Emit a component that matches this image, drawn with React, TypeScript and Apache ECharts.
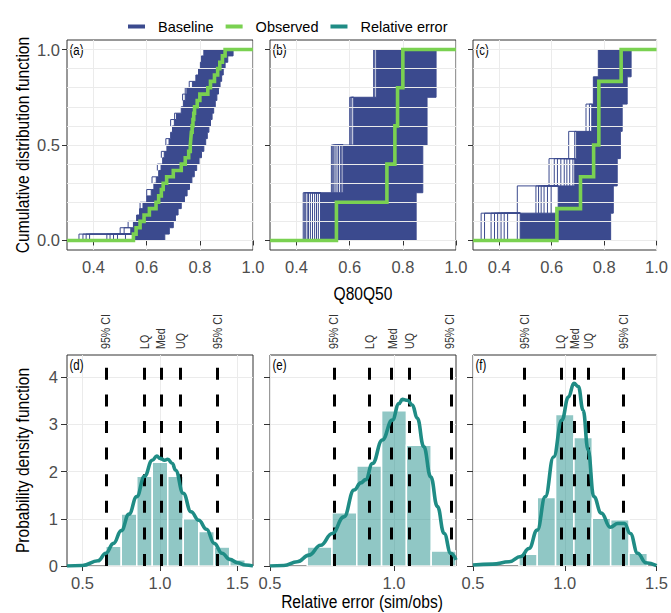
import React, { useEffect, useRef } from 'react';
import * as echarts from 'echarts';

const FONT = "'Liberation Sans', Arial, sans-serif";
const BLUE = '#3B4A8E';
const GREEN = '#7AD151';
const TEAL = '#1F8C85';
const HIST = 'rgba(33,144,140,0.5)';
const GRIDC = '#EBEBEB';
const BORDER = '#333333';
const LABEL = '#4D4D4D';
const NARROW = 0.82;

// ---------- legend / labels ----------
const legendNames = ['Baseline', 'Observed', 'Relative error'];
const panelTags = ['(a)', '(b)', '(c)', '(d)', '(e)', '(f)'];
const quantileLabels = ['95% CI', 'LQ', 'Med', 'UQ', '95% CI'];

// ---------- top row: cumulative distribution ----------
const cdfXTicks = [0.4, 0.6, 0.8, 1.0];
const cdfYTicks = [0, 0.5, 1.0];
const cdfYGrid = [0, 0.1, 0.2, 0.3, 0.4, 0.5, 0.6, 0.7, 0.8, 0.9, 1.0];

// (a) observed sample (sorted) and baseline ensemble envelope per ECDF level
const obsA = [0.55, 0.56, 0.575, 0.59, 0.61, 0.635, 0.645, 0.655, 0.662, 0.675, 0.70, 0.73, 0.745, 0.758, 0.764,
  0.766, 0.768, 0.771, 0.774, 0.777, 0.78, 0.79, 0.80, 0.83, 0.84, 0.855, 0.867, 0.875, 0.885, 0.895];
const baseLeftA = [0.55, 0.54, 0.55, 0.562, 0.573, 0.586, 0.60, 0.617, 0.627, 0.636, 0.645, 0.654, 0.66, 0.666, 0.676,
  0.684, 0.69, 0.697, 0.704, 0.712, 0.73, 0.738, 0.745, 0.751, 0.772, 0.785, 0.795, 0.802, 0.806, 0.815];
const baseRightA = [0.668, 0.685, 0.70, 0.708, 0.718, 0.73, 0.742, 0.752, 0.761, 0.77, 0.779, 0.788, 0.797, 0.806, 0.815,
  0.822, 0.828, 0.834, 0.84, 0.846, 0.852, 0.858, 0.864, 0.87, 0.876, 0.882, 0.888, 0.895, 0.905, 0.925];
const sparseA = [[0.345, 1], [0.36, 1], [0.372, 1], [0.385, 1], [0.45, 1], [0.462, 1], [0.475, 1], [0.49, 1], [0.52, 1],
  [0.5, 2], [0.515, 2], [0.53, 3], [0.575, 6], [0.6, 8], [0.62, 10], [0.64, 12], [0.655, 14], [0.672, 16], [0.69, 19],
  [0.705, 20], [0.735, 23], [0.745, 24], [0.76, 25]];

// (b)
const obsB = [0.55, 0.74, 0.77, 0.78, 0.80];
const baseLeftB = [0.49, 0.575, 0.615, 0.70];
const baseRightB = [0.85, 0.875, 0.891, 0.925];
const sparseB = [[0.425, 1], [0.429, 1], [0.433, 1], [0.44, 1], [0.445, 1], [0.452, 1], [0.46, 1], [0.468, 1], [0.475, 1],
  [0.482, 1], [0.531, 2], [0.536, 2], [0.54, 2], [0.545, 2], [0.552, 2], [0.558, 2], [0.565, 2], [0.57, 2],
  [0.6, 3], [0.604, 3], [0.608, 3], [0.69, 4], [0.694, 4]];

// (c)
const obsC = [0.62, 0.71, 0.76, 0.78, 0.78, 0.865];
const baseLeftC = [0.48, 0.625, 0.688, 0.694, 0.753, 0.759, 0.778];
const baseRightC = [0.825, 0.835, 0.85, 0.862, 0.869, 0.888, 0.903];
const sparseC = [[0.331, 1], [0.344, 1], [0.369, 1], [0.382, 1], [0.394, 1], [0.407, 1], [0.419, 1], [0.432, 1], [0.469, 1],
  [0.469, 2], [0.54, 2], [0.55, 2], [0.56, 2], [0.571, 2], [0.584, 2], [0.598, 2],
  [0.59, 3], [0.61, 3], [0.622, 3], [0.635, 3], [0.648, 3], [0.658, 3], [0.669, 3], [0.681, 3],
  [0.665, 4], [0.688, 4], [0.731, 5], [0.744, 5]];

// ---------- bottom row: probability density ----------
const pdfYTicks = [0, 1, 2, 3, 4];
const relTicksD = [0.5, 1.0, 1.5];
const relTicksE = [0.5, 1.0];
const relTicksF = [0.5, 1.0, 1.5];

const histCentersD = [0.7, 0.8, 0.9, 1.0, 1.1, 1.2, 1.3, 1.4, 1.5];
const histHeightsD = [0.42, 1.10, 1.90, 2.20, 1.90, 1.00, 0.73, 0.40, 0.13];
const histCentersE = [0.7, 0.8, 0.9, 1.0, 1.1, 1.2];
const histHeightsE = [0.40, 1.13, 2.12, 3.29, 2.56, 0.32];
const histCentersF = [0.8, 0.9, 1.0, 1.1, 1.2, 1.3, 1.4];
const histHeightsF = [0.25, 1.45, 3.21, 2.72, 1.01, 0.98, 0.27];

const densXD = [0.4, 0.5, 0.6, 0.65, 0.7, 0.75, 0.8, 0.85, 0.9, 0.95, 0.98, 1.0, 1.03, 1.05, 1.08, 1.1, 1.15, 1.2, 1.25, 1.3, 1.35, 1.4, 1.45, 1.5, 1.55, 1.6];
const densYD = [0, 0.01, 0.11, 0.27, 0.48, 0.75, 1.1, 1.47, 1.9, 2.24, 2.33, 2.28, 2.24, 2.26, 2.17, 2.03, 1.54, 1.15, 0.97, 0.78, 0.48, 0.27, 0.14, 0.07, 0.02, 0.0];
const densXE = [0.5, 0.556, 0.61, 0.657, 0.704, 0.751, 0.798, 0.839, 0.866, 0.886, 0.913, 0.953, 0.993, 1.02, 1.034, 1.054, 1.074, 1.094, 1.12, 1.148, 1.175, 1.202, 1.229, 1.25];
const densYE = [0.0, 0.01, 0.09, 0.23, 0.44, 0.69, 1.04, 1.61, 1.76, 1.83, 2.17, 2.67, 3.09, 3.44, 3.53, 3.51, 3.41, 3.13, 2.53, 1.89, 1.26, 0.69, 0.27, 0.13];
const densXF = [0.5, 0.607, 0.697, 0.76, 0.805, 0.85, 0.894, 0.939, 0.984, 1.02, 1.05, 1.074, 1.1, 1.127, 1.158, 1.199, 1.248, 1.289, 1.325, 1.357, 1.397, 1.442, 1.5];
const densYF = [0.02, 0.04, 0.09, 0.2, 0.37, 0.76, 1.47, 2.31, 3.09, 3.58, 3.87, 3.8, 3.3, 2.46, 1.47, 1.12, 0.82, 0.9, 0.9, 0.69, 0.27, 0.07, 0.01];

const quantD = [0.65, 0.90, 1.007, 1.131, 1.37];
const quantE = [0.758, 0.902, 0.993, 1.063, 1.225];
const quantF = [0.783, 0.98, 1.052, 1.131, 1.321];

// ---------- layout ----------
const GL = [67, 270, 473];
const GW = 186;
const TOP_T = 40, TOP_H = 210;
const BOT_T = 355, BOT_H = 211;
const BIN = 0.1;

const fmt1 = (v: number) => v.toFixed(1);

function bandSeries(idx: number, L: number[], R: number[]) {
  const n = L.length;
  return {
    type: 'custom', name: 'Baseline', xAxisIndex: idx, yAxisIndex: idx, z: 2, clip: true, silent: true,
    itemStyle: { color: BLUE },
    data: [[L[0], 0]],
    renderItem: (_p: any, api: any) => {
      const pts: number[][] = [];
      for (let i = 0; i < n; i++) {
        pts.push(api.coord([L[i], i / n]));
        pts.push(api.coord([L[i], (i + 1) / n]));
      }
      for (let i = n - 1; i >= 0; i--) {
        pts.push(api.coord([R[i], (i + 1) / n]));
        pts.push(api.coord([R[i], i / n]));
      }
      return { type: 'polygon', shape: { points: pts }, style: { fill: BLUE, stroke: BLUE, lineWidth: 1 } };
    },
  };
}

function sparseSeries(idx: number, sparse: number[][], L: number[]) {
  const n = L.length;
  return {
    type: 'custom', name: 'Baseline', xAxisIndex: idx, yAxisIndex: idx, z: 2, clip: true, silent: true,
    itemStyle: { color: BLUE },
    data: sparse,
    renderItem: (_p: any, api: any) => {
      const x = api.value(0);
      const k = api.value(1);
      const p1 = api.coord([x, (k - 1) / n]);
      const p2 = api.coord([x, k / n]);
      const p3 = api.coord([L[k - 1], k / n]);
      return { type: 'polyline', shape: { points: [p1, p2, p3] }, style: { stroke: BLUE, lineWidth: 1, fill: null } };
    },
  };
}

function obsSeries(idx: number, obs: number[]) {
  const n = obs.length;
  const data: number[][] = [[0.3, 0]];
  obs.forEach((v, i) => data.push([v, (i + 1) / n]));
  data.push([1.0, 1]);
  return {
    type: 'line', name: 'Observed', xAxisIndex: idx, yAxisIndex: idx, z: 5, step: 'end',
    symbol: 'none', showSymbol: false, silent: true,
    lineStyle: { color: GREEN, width: 3.6, join: 'miter' }, itemStyle: { color: GREEN },
    data,
  };
}

function yGridSeries(idx: number) {
  return {
    type: 'line', xAxisIndex: idx, yAxisIndex: idx, z: 1, data: [], silent: true,
    markLine: {
      silent: true, symbol: ['none', 'none'], label: { show: false }, animation: false,
      lineStyle: { color: GRIDC, width: 1, type: 'solid' },
      emphasis: { disabled: true },
      data: cdfYGrid.map((v) => ({ yAxis: v })),
    },
  };
}

function histSeries(idx: number, centers: number[], heights: number[]) {
  return {
    type: 'custom', name: 'Relative error', xAxisIndex: idx, yAxisIndex: idx, z: 2, clip: true, silent: true,
    itemStyle: { color: TEAL },
    data: centers.map((c, i) => [c, heights[i]]),
    renderItem: (_p: any, api: any) => {
      const c = api.value(0);
      const h = api.value(1);
      const a = api.coord([c - BIN / 2, h]);
      const b = api.coord([c + BIN / 2, 0]);
      return {
        type: 'rect',
        shape: { x: a[0], y: a[1], width: b[0] - a[0], height: b[1] - a[1] },
        style: { fill: HIST, stroke: '#ffffff', lineWidth: 1.5 },
      };
    },
  };
}

function quantSeries(idx: number, q: number[]) {
  return {
    type: 'line', xAxisIndex: idx, yAxisIndex: idx, z: 3, data: [], silent: true,
    markLine: {
      silent: true, symbol: ['none', 'none'], label: { show: false }, animation: false,
      lineStyle: { color: '#000000', width: 3, type: [12, 14.6], cap: 'butt' },
      emphasis: { disabled: true },
      data: q.map((v) => ({ xAxis: v })),
    },
  };
}

function densSeries(idx: number, xs: number[], ys: number[]) {
  return {
    type: 'line', name: 'Relative error', xAxisIndex: idx, yAxisIndex: idx, z: 5,
    smooth: 0.45, smoothMonotone: 'x', symbol: 'none', showSymbol: false, silent: true,
    lineStyle: { color: TEAL, width: 3.6 }, itemStyle: { color: TEAL },
    data: xs.map((x, i) => [x, ys[i]]),
  };
}

const tickStyle = { lineStyle: { color: BORDER, width: 1 } };
const labelStyle = { color: LABEL, fontSize: 16.5, fontFamily: FONT };

export default function App() {
  const ref = useRef<HTMLDivElement>(null);
  useEffect(() => {
    document.body.style.margin = '0';
    const chart = echarts.init(ref.current!, undefined, { renderer: 'svg' });

    const grids: any[] = [];
    for (let i = 0; i < 3; i++) grids.push({ left: GL[i], top: TOP_T, width: GW, height: TOP_H, show: true, borderColor: BORDER, borderWidth: 1, backgroundColor: '#fff' });
    for (let i = 0; i < 3; i++) grids.push({ left: GL[i], top: BOT_T, width: GW, height: BOT_H, show: true, borderColor: BORDER, borderWidth: 1, backgroundColor: '#fff' });

    const relRanges = [[0.4, 1.6], [0.5, 1.25], [0.5, 1.5]];
    const relTicks = [relTicksD, relTicksE, relTicksF];

    const xAxis: any[] = [];
    for (let i = 0; i < 3; i++) {
      xAxis.push({
        gridIndex: i, type: 'value', min: 0.3, max: 1.0, interval: 0.1,
        axisLine: { show: false },
        splitLine: { show: true, lineStyle: { color: GRIDC, width: 1 } },
        axisTick: { show: true, length: 5, customValues: cdfXTicks, ...tickStyle },
        axisLabel: { show: true, customValues: cdfXTicks, formatter: fmt1, margin: 8, ...labelStyle },
      });
    }
    for (let i = 0; i < 3; i++) {
      xAxis.push({
        gridIndex: 3 + i, type: 'value', min: relRanges[i][0], max: relRanges[i][1], interval: 0.1,
        axisLine: { show: false },
        splitLine: { show: true, lineStyle: { color: GRIDC, width: 1 } },
        axisTick: { show: true, length: 5, customValues: relTicks[i], ...tickStyle },
        axisLabel: { show: true, customValues: relTicks[i], formatter: fmt1, margin: 8, ...labelStyle },
      });
    }
    const yAxis: any[] = [];
    for (let i = 0; i < 3; i++) {
      yAxis.push({
        gridIndex: i, type: 'value', min: -0.05, max: 1.05,
        axisLine: { show: false },
        splitLine: { show: false },
        axisTick: { show: true, length: 5, customValues: cdfYTicks, ...tickStyle },
        axisLabel: { show: i === 0, customValues: cdfYTicks, formatter: fmt1, margin: 7, ...labelStyle },
      });
    }
    for (let i = 0; i < 3; i++) {
      yAxis.push({
        gridIndex: 3 + i, type: 'value', min: 0, max: 4.47, interval: 0.5,
        axisLine: { show: false },
        splitLine: { show: true, lineStyle: { color: GRIDC, width: 1 } },
        axisTick: { show: true, length: 6, customValues: pdfYTicks, ...tickStyle },
        axisLabel: { show: i === 0, customValues: pdfYTicks, formatter: (v: number) => String(v), margin: 9, ...labelStyle },
      });
    }

    const series: any[] = [
      yGridSeries(0), yGridSeries(1), yGridSeries(2),
      bandSeries(0, baseLeftA, baseRightA), sparseSeries(0, sparseA, baseLeftA), obsSeries(0, obsA),
      bandSeries(1, baseLeftB, baseRightB), sparseSeries(1, sparseB, baseLeftB), obsSeries(1, obsB),
      bandSeries(2, baseLeftC, baseRightC), sparseSeries(2, sparseC, baseLeftC), obsSeries(2, obsC),
      histSeries(3, histCentersD, histHeightsD), quantSeries(3, quantD), densSeries(3, densXD, densYD),
      histSeries(4, histCentersE, histHeightsE), quantSeries(4, quantE), densSeries(4, densXE, densYE),
      histSeries(5, histCentersF, histHeightsF), quantSeries(5, quantF), densSeries(5, densXF, densYF),
    ];

    chart.setOption({
      animation: false,
      textStyle: { fontFamily: FONT },
      legend: {
        top: 14, left: 123, itemWidth: 17, itemHeight: 4, itemGap: 12, icon: 'rect', selectedMode: false,
        textStyle: { fontSize: 14.5, color: '#000', fontFamily: FONT, padding: [0, 0, 0, 8] },
        data: [
          { name: legendNames[0], itemStyle: { color: BLUE } },
          { name: legendNames[1], itemStyle: { color: GREEN } },
          { name: legendNames[2], itemStyle: { color: TEAL } },
        ],
      },
      grid: grids,
      xAxis,
      yAxis,
      series,
    });

    const graphic: any[] = [];
    panelTags.forEach((t, i) => {
      graphic.push({
        type: 'text', x: GL[i % 3] + 2.5, y: (i < 3 ? TOP_T : BOT_T) + 3, scaleX: NARROW, silent: true,
        style: { text: t, font: `14px ${FONT}`, fill: '#000', align: 'left', verticalAlign: 'top' },
      });
    });
    const quants = [quantD, quantE, quantF];
    quants.forEach((q, j) => {
      q.forEach((v, k) => {
        const px = chart.convertToPixel({ xAxisIndex: 3 + j } as any, v) as unknown as number;
        graphic.push({
          type: 'text', x: px, y: BOT_T - 6, rotation: Math.PI / 2, scaleX: NARROW, silent: true,
          style: { text: quantileLabels[k], font: `13px ${FONT}`, fill: '#333', align: 'left', verticalAlign: 'middle' },
        });
      });
    });
    graphic.push({ type: 'text', x: 22, y: TOP_T + TOP_H / 2, rotation: Math.PI / 2, scaleX: NARROW, silent: true,
      style: { text: 'Cumulative distribution function', font: `19px ${FONT}`, fill: '#000', align: 'center', verticalAlign: 'middle' } });
    graphic.push({ type: 'text', x: 22, y: BOT_T + BOT_H / 2, rotation: Math.PI / 2, scaleX: NARROW, silent: true,
      style: { text: 'Probability density function', font: `19px ${FONT}`, fill: '#000', align: 'center', verticalAlign: 'middle' } });
    graphic.push({ type: 'text', x: 363, y: 293, scaleX: NARROW, silent: true,
      style: { text: 'Q80Q50', font: `19px ${FONT}`, fill: '#000', align: 'center', verticalAlign: 'middle' } });
    graphic.push({ type: 'text', x: 362, y: 601, scaleX: NARROW, silent: true,
      style: { text: 'Relative error (sim/obs)', font: `19px ${FONT}`, fill: '#000', align: 'center', verticalAlign: 'middle' } });

    chart.setOption({ graphic });

    return () => chart.dispose();
  }, []);
  return <div ref={ref} style={{ width: 671, height: 613 }} />;
}
